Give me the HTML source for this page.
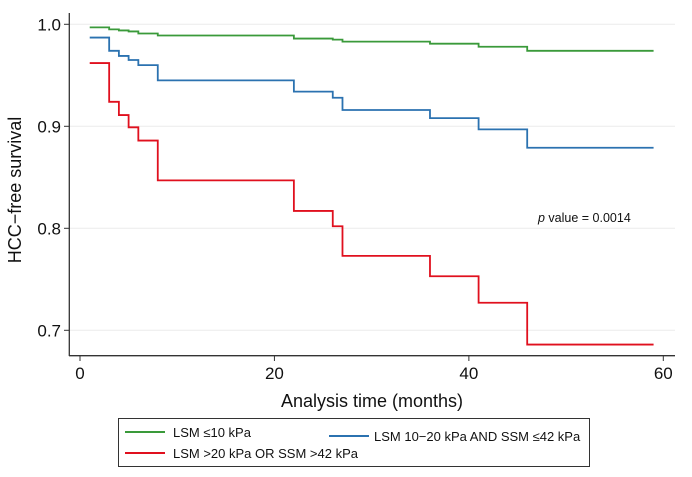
<!DOCTYPE html>
<html><head><meta charset="utf-8"><style>
body{margin:0;background:#fff}
svg text{font-family:"Liberation Sans",Arial,sans-serif;fill:#111}
</style></head><body>
<svg id="chart" width="692" height="472" viewBox="0 0 692 472">
<g id="grid"></g><g id="axes"></g><g id="series"></g>
<text x="538" y="222" font-size="12.5"><tspan font-style="italic">p</tspan> value = 0.0014</text>
<text x="372" y="407" font-size="18" text-anchor="middle">Analysis time (months)</text>
<text transform="translate(21,190) rotate(-90)" font-size="18" text-anchor="middle">HCC−free survival</text>
<g>
<rect x="118.5" y="418.5" width="471" height="48" fill="#fff" stroke="#333" stroke-width="1"/>
<line x1="125" y1="432" x2="165" y2="432" stroke="#3a9a3a" stroke-width="2"/>
<text x="173" y="437" font-size="13">LSM ≤10 kPa</text>
<line x1="329" y1="436" x2="369" y2="436" stroke="#2b72b0" stroke-width="2"/>
<text x="374" y="441" font-size="13">LSM 10−20 kPa AND SSM ≤42 kPa</text>
<line x1="125" y1="453" x2="165" y2="453" stroke="#e0101e" stroke-width="2"/>
<text x="173" y="458" font-size="13">LSM &gt;20 kPa OR SSM &gt;42 kPa</text>
</g>
</svg>
<script>
const xTicks=[0,20,40,60];
const yTicks=[0.7,0.8,0.9,1.0];
const greenTimes=[1,3,4,5,6,8,22,26,27,36,41,46,59];
const greenSurv=[0.997,0.995,0.994,0.993,0.991,0.989,0.986,0.985,0.983,0.981,0.978,0.974,0.974];
const blueTimes=[1,3,4,5,6,8,22,26,27,36,41,46,59];
const blueSurv=[0.987,0.974,0.969,0.965,0.960,0.945,0.934,0.928,0.916,0.908,0.897,0.879,0.879];
const redTimes=[1,3,4,5,6,8,22,26,27,36,41,46,59];
const redSurv=[0.962,0.924,0.911,0.899,0.886,0.847,0.817,0.802,0.773,0.753,0.727,0.686,0.686];
const NS='http://www.w3.org/2000/svg';
const xs=t=>80+t*(663.3-80)/60;
const ys=v=>24.3+(1-v)*1020;
function mk(tag,attrs,parent){const e=document.createElementNS(NS,tag);for(const k in attrs)e.setAttribute(k,attrs[k]);parent.appendChild(e);return e;}
const grid=document.getElementById('grid'),axes=document.getElementById('axes'),ser=document.getElementById('series');
yTicks.forEach(v=>{
 const g=mk('line',{x1:69,x2:675,y1:ys(v),y2:ys(v),stroke:'#ececec','stroke-width':1},grid);
 
 
 mk('line',{x1:64,x2:69,y1:ys(v),y2:ys(v),stroke:'#333','stroke-width':1},axes);
 const t=mk('text',{x:61,y:ys(v)+6,'font-size':17,'text-anchor':'end'},axes);
 t.textContent=v.toFixed(1);
 
 
});
xTicks.forEach(v=>{
 mk('line',{x1:xs(v),x2:xs(v),y1:355.7,y2:361,stroke:'#333','stroke-width':1},axes);
 const t=mk('text',{x:xs(v),y:379,'font-size':17,'text-anchor':'middle'},axes);
 t.textContent=v;
 
 
});
const ya=mk('line',{x1:69.3,x2:69.3,y1:13,y2:356,stroke:'#333','stroke-width':1.3},axes);


const xa=mk('line',{x1:69,x2:675,y1:355.7,y2:355.7,stroke:'#333','stroke-width':1.3},axes);


function step(times,surv,color,name){
 let d='M'+xs(times[0])+','+ys(surv[0]);
 for(let i=1;i<times.length;i++){d+=' H'+xs(times[i])+' V'+ys(surv[i]);}
 const p=mk('path',{d:d,fill:'none',stroke:color,'stroke-width':1.8},ser);
 
 
}
step(greenTimes,greenSurv,'#3a9a3a','survival-curve-lsm-le-10');
step(blueTimes,blueSurv,'#2b72b0','survival-curve-lsm-10-20');
step(redTimes,redSurv,'#e0101e','survival-curve-lsm-gt-20');
</script>
</body></html>
